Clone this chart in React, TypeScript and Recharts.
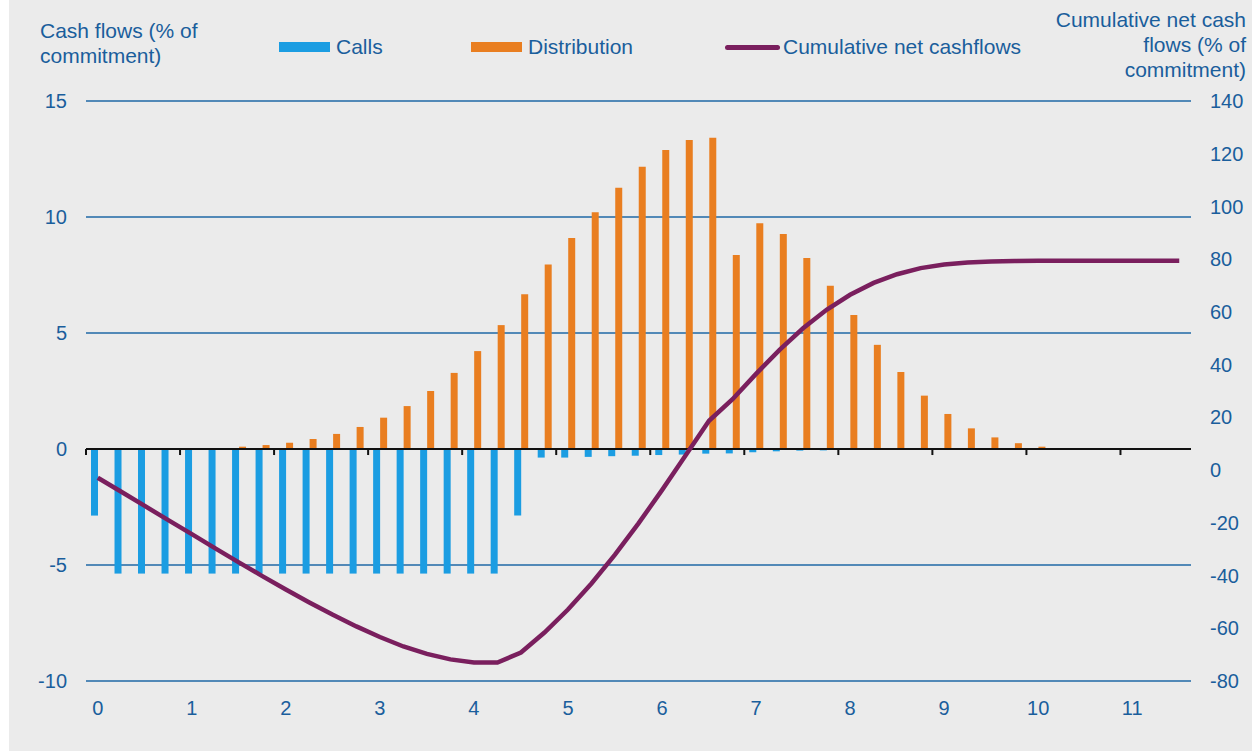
import { ComposedChart, Bar, Line, XAxis, YAxis, CartesianGrid, ReferenceLine } from "recharts";

// quarters since first close (years)
const QUARTERS = [
  0, 0.25, 0.5, 0.75, 1, 1.25, 1.5, 1.75, 2, 2.25, 2.5, 2.75, 3, 3.25, 3.5, 3.75,
  4, 4.25, 4.5, 4.75, 5, 5.25, 5.5, 5.75, 6, 6.25, 6.5, 6.75, 7, 7.25, 7.5, 7.75,
  8, 8.25, 8.5, 8.75, 9, 9.25, 9.5, 9.75, 10, 10.25, 10.5, 10.75, 11, 11.25, 11.5,
];

const CALLS = [
  -2.87, -5.37, -5.37, -5.37, -5.37, -5.37, -5.37, -5.37, -5.37, -5.37, -5.37, -5.37,
  -5.37, -5.37, -5.37, -5.37, -5.37, -5.37, -2.87, -0.37, -0.37, -0.34, -0.31, -0.29,
  -0.26, -0.24, -0.2, -0.19, -0.14, -0.1, -0.07, -0.06, -0.03, -0.02, 0, 0,
  0, 0, 0, 0, 0, 0, 0, 0, 0, 0, 0,
];

const DISTRIBUTION = [
  0, 0, 0, 0, 0.01, 0.03, 0.1, 0.17, 0.27, 0.43, 0.65, 0.95,
  1.35, 1.85, 2.5, 3.28, 4.22, 5.34, 6.67, 7.95, 9.09, 10.2, 11.26, 12.17,
  12.89, 13.32, 13.42, 8.36, 9.73, 9.27, 8.23, 7.04, 5.78, 4.49, 3.32, 2.3,
  1.51, 0.89, 0.5, 0.25, 0.1, 0.03, 0, 0, 0, 0, 0,
];

const CUMULATIVE = [
  -2.9, -8.2, -13.6, -19.0, -24.3, -29.7, -35.0, -40.2, -45.3, -50.2, -54.9, -59.3,
  -63.3, -66.9, -69.7, -71.8, -73.0, -73.0, -69.2, -61.6, -52.9, -43.0, -32.1, -20.2,
  -7.6, 5.5, 18.7, 26.9, 36.5, 45.6, 53.8, 60.8, 66.5, 71.0, 74.3, 76.6,
  78.0, 78.7, 79.1, 79.3, 79.4, 79.4, 79.4, 79.4, 79.4, 79.4, 79.4,
];

const LEFT_TICKS = [-10, -5, 0, 5, 10, 15];
const RIGHT_TICKS = [-80, -60, -40, -20, 0, 20, 40, 60, 80, 100, 120, 140];
const YEAR_TICKS = [0, 1, 2, 3, 4, 5, 6, 7, 8, 9, 10, 11];

const data = QUARTERS.map((q, i) => ({
  q,
  calls: CALLS[i],
  dist: DISTRIBUTION[i],
  net: CUMULATIVE[i],
}));

const BLUE_TEXT = "#1A5E9C";
const GRID = "#1F69A6";
const FONT = "'Liberation Sans', Arial, sans-serif";

const SERIES = [
  { name: "Calls", color: "#1B9DE2", kind: "bar", left: 270 },
  { name: "Distribution", color: "#E97E20", kind: "bar", left: 462 },
  { name: "Cumulative net cashflows", color: "#7A1F5E", kind: "line", left: 716 },
];

function LegendRow() {
  return (
    <>
      {SERIES.map((s) => (
        <div
          key={s.name}
          style={{
            position: "absolute",
            top: 34,
            left: s.left,
            height: 26,
            display: "flex",
            alignItems: "center",
            fontSize: 21,
            color: BLUE_TEXT,
            fontFamily: FONT,
            whiteSpace: "nowrap",
          }}
        >
          {s.kind === "bar" ? (
            <span style={{ display: "inline-block", width: 51, height: 10, background: s.color, marginRight: 6 }} />
          ) : (
            <span style={{ display: "inline-block", width: 55, height: 5, borderRadius: 3, background: s.color, marginRight: 3 }} />
          )}
          {s.name}
        </div>
      ))}
    </>
  );
}

export default function App() {
  return (
    <div style={{ position: "absolute", top: 0, left: 0, width: 1252, height: 751, background: "#fff" }}>
      <div style={{ position: "absolute", top: 0, left: 9, width: 1243, height: 751, background: "#EBEBEB" }}>
        <div
          style={{
            position: "absolute",
            top: 18,
            left: 31,
            fontSize: 21,
            lineHeight: "25px",
            color: BLUE_TEXT,
            fontFamily: FONT,
          }}
        >
          Cash flows (% of
          <br />
          commitment)
        </div>
        <div
          style={{
            position: "absolute",
            top: 7,
            right: 6,
            fontSize: 21,
            lineHeight: "25px",
            color: BLUE_TEXT,
            fontFamily: FONT,
            textAlign: "right",
          }}
        >
          Cumulative net cash
          <br />
          flows (% of
          <br />
          commitment)
        </div>
        <LegendRow />
        <div style={{ position: "absolute", top: 0, left: 0 }}>
          <ComposedChart
            width={1243}
            height={751}
            data={data}
            margin={{ top: 101, right: 0, bottom: 0, left: 0 }}
            barGap={0}
            barSize={7}
          >
            <CartesianGrid vertical={false} stroke={GRID} strokeWidth={1.5} />
            <XAxis
              dataKey="q"
              interval={3}
              height={70}
              axisLine={false}
              tickLine={false}
              tickSize={0}
              tickMargin={20}
              tick={{ fill: BLUE_TEXT, fontSize: 20, fontFamily: FONT }}
            />
            <YAxis
              domain={[-10, 15]}
              ticks={LEFT_TICKS}
              width={77}
              axisLine={false}
              tickLine={false}
              tickSize={0}
              tickMargin={19}
              tick={{ fill: BLUE_TEXT, fontSize: 20, fontFamily: FONT }}
            />
            <YAxis
              yAxisId="right"
              orientation="right"
              domain={[-80, 140]}
              ticks={RIGHT_TICKS}
              width={61}
              axisLine={false}
              tickLine={false}
              tickSize={0}
              tickMargin={19}
              tick={{ fill: BLUE_TEXT, fontSize: 20, fontFamily: FONT, textAnchor: "start" }}
            />
            <Bar dataKey="calls" name="Calls" fill={SERIES[0].color} isAnimationActive={false} />
            <Bar dataKey="dist" name="Distribution" fill={SERIES[1].color} isAnimationActive={false} />
            <ReferenceLine y={0} stroke="#111" strokeWidth={2} />
            {YEAR_TICKS.map((t) => (
              <ReferenceLine
                key={t}
                segment={[{ x: t, y: 0 }, { x: t, y: -0.26 }]}
                position="start"
                stroke="#111"
                strokeWidth={2}
              />
            ))}
            <Line
              yAxisId="right"
              type="linear"
              dataKey="net"
              name="Cumulative net cashflows"
              stroke={SERIES[2].color}
              strokeWidth={4.5}
              dot={false}
              isAnimationActive={false}
            />
          </ComposedChart>
        </div>
      </div>
    </div>
  );
}
